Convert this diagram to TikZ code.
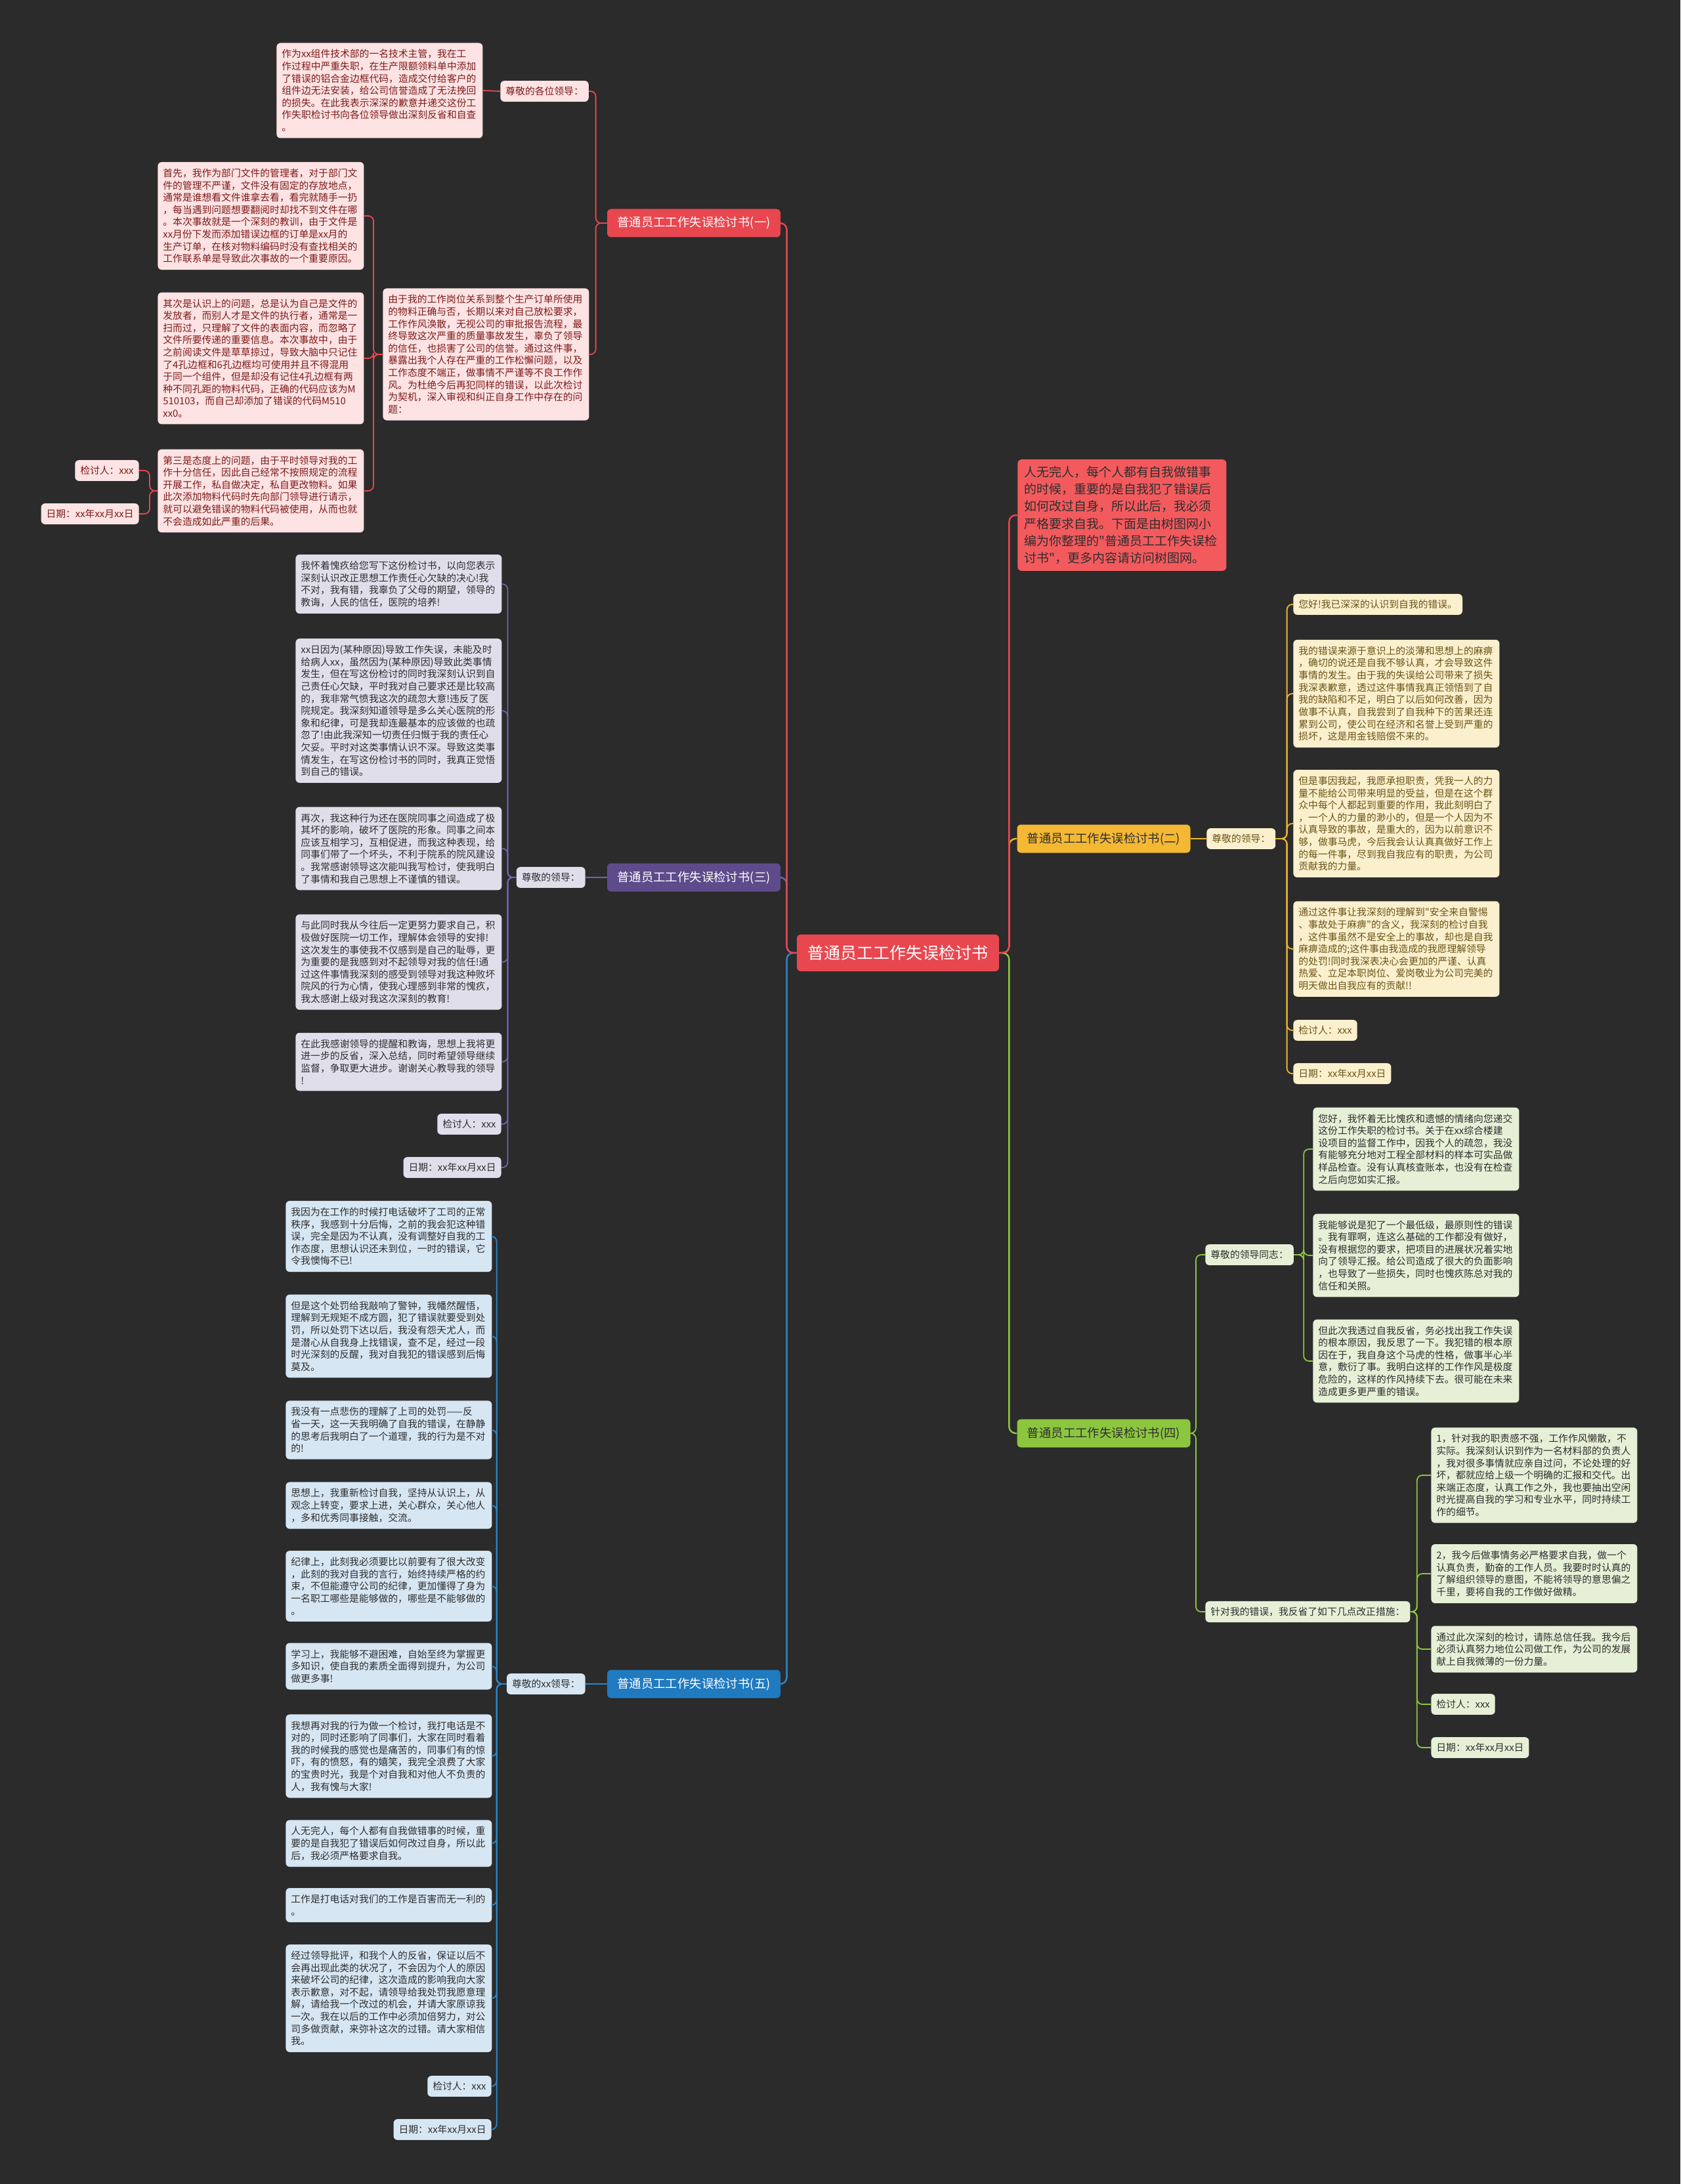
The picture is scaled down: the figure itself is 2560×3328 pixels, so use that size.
\documentclass[tikz,border=0pt]{standalone}
\usepackage{fontspec}
\newfontfamily\cjk{Noto Sans CJK SC}
\definecolor{bg}{HTML}{2B2B2B}
\definecolor{cred}{HTML}{E8474F}
\definecolor{cintro}{HTML}{F35A5D}
\definecolor{cyel}{HTML}{F4B834}
\definecolor{cpur}{HTML}{5E4B8B}
\definecolor{cgrn}{HTML}{8CC63F}
\definecolor{cblu}{HTML}{1F7AC0}
\definecolor{lred}{HTML}{E8474F}
\definecolor{lpur}{HTML}{7461AE}
\definecolor{lblu}{HTML}{2C86C8}
\definecolor{lyel}{HTML}{F0B530}
\definecolor{lgrn}{HTML}{8DC63F}
\definecolor{fpink}{HTML}{FDE3E3}
\definecolor{tpink}{HTML}{7E1A1A}
\definecolor{flav}{HTML}{E1DEEC}
\definecolor{fblu}{HTML}{D6E6F3}
\definecolor{fcre}{HTML}{FBF0CD}
\definecolor{tcre}{HTML}{6B5317}
\definecolor{fgrn}{HTML}{E6F0D7}
\definecolor{tdark}{HTML}{2E2E2E}
\tikzset{
  base/.style={rounded corners=3pt, inner xsep=4pt, inner ysep=5pt, align=left,
    font=\cjk\fontsize{7.4}{9.3}\selectfont},
  leaf/.style={base, text width=149pt},
  tag/.style={base, inner ysep=4.5pt},
  pinkbox/.style={fill=fpink, text=tpink},
  lavbox/.style={fill=flav, text=tdark},
  blubox/.style={fill=fblu, text=tdark},
  crebox/.style={fill=fcre, text=tcre},
  grnbox/.style={fill=fgrn, text=tdark},
  branch/.style={rounded corners=3pt, minimum width=132pt, minimum height=21.5pt,
    inner sep=0pt, font=\cjk\fontsize{9.2}{10}\selectfont},
  conn/.style={line width=1.2pt, rounded corners=5pt},
  subconn/.style={line width=0.9pt, rounded corners=4pt},
}
\begin{document}
\begin{tikzpicture}[x=0.5pt,y=-0.5pt]
\fill[bg] (0,0) rectangle (2560,3328);

% root
\node[rounded corners=3pt, fill=cred, text=white, minimum width=154pt, minimum height=28pt,
  inner sep=0pt, font=\cjk\fontsize{12.5}{14}\selectfont] (root) at (1368,1452) {普通员工工作失误检讨书};

% branches
\node[branch, fill=cred, text=white] (b1) at (1057,340) {普通员工工作失误检讨书(一)};
\node[branch, fill=cpur, text=white] (b3) at (1057,1337) {普通员工工作失误检讨书(三)};
\node[branch, fill=cblu, text=white] (b5) at (1057,2566) {普通员工工作失误检讨书(五)};
\node[branch, fill=cyel, text=tdark] (b2) at (1681.5,1278) {普通员工工作失误检讨书(二)};
\node[branch, fill=cgrn, text=tdark] (b4) at (1681.5,2184) {普通员工工作失误检讨书(四)};
\node[rounded corners=3pt, fill=cintro, text=tdark, inner xsep=5pt, inner ysep=5pt, text width=149pt,
  align=left, anchor=west, font=\cjk\fontsize{9.5}{13.15}\selectfont] (intro) at (1550,785)
  {人无完人，每个人都有自我做错事\\的时候，重要的是自我犯了错误后\\如何改过自身，所以此后，我必须\\严格要求自我。下面是由树图网小\\编为你整理的"普通员工工作失误检\\讨书"，更多内容请访问树图网。};

% ---------- branch 1 ----------
\node[tag, pinkbox, anchor=west] (l1) at (762,139) {尊敬的各位领导：};
\node[leaf, pinkbox, anchor=west] (t1) at (421,138) {作为xx组件技术部的一名技术主管，我在工\\作过程中严重失职，在生产限额领料单中添加\\了错误的铝合金边框代码，造成交付给客户的\\组件边无法安装，给公司信誉造成了无法挽回\\的损失。在此我表示深深的歉意并递交这份工\\作失职检讨书向各位领导做出深刻反省和自查\\。};
\node[leaf, pinkbox, anchor=west] (m) at (583,540) {由于我的工作岗位关系到整个生产订单所使用\\的物料正确与否，长期以来对自己放松要求，\\工作作风涣散，无视公司的审批报告流程，最\\终导致这次严重的质量事故发生，辜负了领导\\的信任，也损害了公司的信誉。通过这件事，\\暴露出我个人存在严重的工作松懈问题，以及\\工作态度不端正，做事情不严谨等不良工作作\\风。为杜绝今后再犯同样的错误，以此次检讨\\为契机，深入审视和纠正自身工作中存在的问\\题：};
\node[leaf, pinkbox, anchor=west] (p1) at (240,329) {首先，我作为部门文件的管理者，对于部门文\\件的管理不严谨，文件没有固定的存放地点，\\通常是谁想看文件谁拿去看，看完就随手一扔\\，每当遇到问题想要翻阅时却找不到文件在哪\\。本次事故就是一个深刻的教训，由于文件是\\xx月份下发而添加错误边框的订单是xx月的\\生产订单，在核对物料编码时没有查找相关的\\工作联系单是导致此次事故的一个重要原因。};
\node[leaf, pinkbox, anchor=west] (p2) at (240,546) {其次是认识上的问题，总是认为自己是文件的\\发放者，而别人才是文件的执行者，通常是一\\扫而过，只理解了文件的表面内容，而忽略了\\文件所要传递的重要信息。本次事故中，由于\\之前阅读文件是草草掠过，导致大脑中只记住\\了4孔边框和6孔边框均可使用并且不得混用\\于同一个组件，但是却没有记住4孔边框有两\\种不同孔距的物料代码，正确的代码应该为M\\510103，而自己却添加了错误的代码M510\\xx0。};
\node[leaf, pinkbox, anchor=west] (p3) at (240,748) {第三是态度上的问题，由于平时领导对我的工\\作十分信任，因此自己经常不按照规定的流程\\开展工作，私自做决定，私自更改物料。如果\\此次添加物料代码时先向部门领导进行请示，\\就可以避免错误的物料代码被使用，从而也就\\不会造成如此严重的后果。};
\node[tag, pinkbox, anchor=east] (k1) at (212,717) {检讨人：xxx};
\node[tag, pinkbox, anchor=east] (d1) at (212,783) {日期：xx年xx月xx日};

% ---------- branch 3 ----------
\node[tag, lavbox, anchor=east] (l3) at (892,1337) {尊敬的领导：};
\node[leaf, lavbox, anchor=west] (c1) at (450,890) {我怀着愧疚给您写下这份检讨书，以向您表示\\深刻认识改正思想工作责任心欠缺的决心!我\\不对，我有错，我辜负了父母的期望，领导的\\教诲，人民的信任，医院的培养!};
\node[leaf, lavbox, anchor=west] (c2) at (450,1083) {xx日因为(某种原因)导致工作失误，未能及时\\给病人xx，虽然因为(某种原因)导致此类事情\\发生，但在写这份检讨的同时我深刻认识到自\\己责任心欠缺，平时我对自己要求还是比较高\\的，我非常气愤我这次的疏忽大意!违反了医\\院规定。我深刻知道领导是多么关心医院的形\\象和纪律，可是我却连最基本的应该做的也疏\\忽了!由此我深知一切责任归慨于我的责任心\\欠妥。平时对这类事情认识不深。导致这类事\\情发生，在写这份检讨书的同时，我真正觉悟\\到自己的错误。};
\node[leaf, lavbox, anchor=west] (c3) at (450,1293) {再次，我这种行为还在医院同事之间造成了极\\其坏的影响，破坏了医院的形象。同事之间本\\应该互相学习，互相促进，而我这种表现，给\\同事们带了一个坏头，不利于院系的院风建设\\。我常感谢领导这次能叫我写检讨，使我明白\\了事情和我自己思想上不谨慎的错误。};
\node[leaf, lavbox, anchor=west] (c4) at (450,1466) {与此同时我从今往后一定更努力要求自己，积\\极做好医院一切工作，理解体会领导的安排!\\这次发生的事使我不仅感到是自己的耻辱，更\\为重要的是我感到对不起领导对我的信任!通\\过这件事情我深刻的感受到领导对我这种败坏\\院风的行为心情，使我心理感到非常的愧疚，\\我太感谢上级对我这次深刻的教育!};
\node[leaf, lavbox, anchor=west] (c5) at (450,1618) {在此我感谢领导的提醒和教诲，思想上我将更\\进一步的反省，深入总结，同时希望领导继续\\监督，争取更大进步。谢谢关心教导我的领导\\!};
\node[tag, lavbox, anchor=east] (k3) at (764,1713) {检讨人：xxx};
\node[tag, lavbox, anchor=east] (d3) at (764,1779) {日期：xx年xx月xx日};

% ---------- branch 5 ----------
\node[tag, blubox, anchor=east] (l5) at (892,2566) {尊敬的xx领导：};
\node[leaf, blubox, anchor=west] (f1) at (435,1884) {我因为在工作的时候打电话破坏了工司的正常\\秩序，我感到十分后悔，之前的我会犯这种错\\误，完全是因为不认真，没有调整好自我的工\\作态度，思想认识还未到位，一时的错误，它\\令我懊悔不已!};
\node[leaf, blubox, anchor=west] (f2) at (435,2036) {但是这个处罚给我敲响了警钟，我幡然醒悟，\\理解到无规矩不成方圆，犯了错误就要受到处\\罚，所以处罚下达以后，我没有怨天尤人，而\\是潜心从自我身上找错误，查不足，经过一段\\时光深刻的反醒，我对自我犯的错误感到后悔\\莫及。};
\node[leaf, blubox, anchor=west] (f3) at (435,2179) {我没有一点悲伤的理解了上司的处罚——反\\省一天，这一天我明确了自我的错误，在静静\\的思考后我明白了一个道理，我的行为是不对\\的!};
\node[leaf, blubox, anchor=west] (f4) at (435,2294) {思想上，我重新检讨自我，坚持从认识上，从\\观念上转变，要求上进，关心群众，关心他人\\，多和优秀同事接触，交流。};
\node[leaf, blubox, anchor=west] (f5) at (435,2417) {纪律上，此刻我必须要比以前要有了很大改变\\，此刻的我对自我的言行，始终持续严格的约\\束，不但能遵守公司的纪律，更加懂得了身为\\一名职工哪些是能够做的，哪些是不能够做的\\。};
\node[leaf, blubox, anchor=west] (f6) at (435,2539) {学习上，我能够不避困难，自始至终为掌握更\\多知识，使自我的素质全面得到提升，为公司\\做更多事!};
\node[leaf, blubox, anchor=west] (f7) at (435,2676) {我想再对我的行为做一个检讨，我打电话是不\\对的，同时还影响了同事们，大家在同时看着\\我的时候我的感觉也是痛苦的，同事们有的惊\\吓，有的愤怒，有的嬉笑，我完全浪费了大家\\的宝贵时光，我是个对自我和对他人不负责的\\人，我有愧与大家!};
\node[leaf, blubox, anchor=west] (f8) at (435,2809) {人无完人，每个人都有自我做错事的时候，重\\要的是自我犯了错误后如何改过自身，所以此\\后，我必须严格要求自我。};
\node[leaf, blubox, anchor=west] (f9) at (435,2903) {工作是打电话对我们的工作是百害而无一利的\\。};
\node[leaf, blubox, anchor=west] (f10) at (435,3045) {经过领导批评，和我个人的反省，保证以后不\\会再出现此类的状况了，不会因为个人的原因\\来破坏公司的纪律，这次造成的影响我向大家\\表示歉意，对不起，请领导给我处罚我愿意理\\解，请给我一个改过的机会，并请大家原谅我\\一次。我在以后的工作中必须加倍努力，对公\\司多做贡献，来弥补这次的过错。请大家相信\\我。};
\node[tag, blubox, anchor=east] (k5) at (749,3179) {检讨人：xxx};
\node[tag, blubox, anchor=east] (d5) at (749,3245) {日期：xx年xx月xx日};

% ---------- branch 2 ----------
\node[tag, crebox, anchor=west] (l2) at (1838,1278) {尊敬的领导：};
\node[tag, crebox, anchor=west] (a1) at (1970,921) {您好!我已深深的认识到自我的错误。};
\node[leaf, crebox, anchor=west] (a2) at (1970,1057) {我的错误来源于意识上的淡薄和思想上的麻痹\\，确切的说还是自我不够认真，才会导致这件\\事情的发生。由于我的失误给公司带来了损失\\我深表歉意，透过这件事情我真正领悟到了自\\我的缺陷和不足，明白了以后如何改善，因为\\做事不认真，自我尝到了自我种下的苦果还连\\累到公司，使公司在经济和名誉上受到严重的\\损坏，这是用金钱赔偿不来的。};
\node[leaf, crebox, anchor=west] (a3) at (1970,1255) {但是事因我起，我愿承担职责，凭我一人的力\\量不能给公司带来明显的受益，但是在这个群\\众中每个人都起到重要的作用，我此刻明白了\\，一个人的力量的渺小的，但是一个人因为不\\认真导致的事故，是重大的，因为以前意识不\\够，做事马虎，今后我会认认真真做好工作上\\的每一件事，尽到我自我应有的职责，为公司\\贡献我的力量。};
\node[leaf, crebox, anchor=west] (a4) at (1970,1446) {通过这件事让我深刻的理解到"安全来自警惕\\、事故处于麻痹"的含义，我深刻的检讨自我\\，这件事虽然不是安全上的事故，却也是自我\\麻痹造成的;这件事由我造成的我愿理解领导\\的处罚!同时我深表决心会更加的严谨、认真\\热爱、立足本职岗位、爱岗敬业为公司完美的\\明天做出自我应有的贡献!!};
\node[tag, crebox, anchor=west] (k2) at (1970,1570) {检讨人：xxx};
\node[tag, crebox, anchor=west] (d2) at (1970,1636) {日期：xx年xx月xx日};

% ---------- branch 4 ----------
\node[tag, grnbox, anchor=west] (l4a) at (1836,1912) {尊敬的领导同志：};
\node[leaf, grnbox, anchor=west] (g1) at (2000,1751) {您好，我怀着无比愧疚和遗憾的情绪向您递交\\这份工作失职的检讨书。关于在xx综合楼建\\设项目的监督工作中，因我个人的疏忽，我没\\有能够充分地对工程全部材料的样本可实品做\\样品检查。没有认真核查账本，也没有在检查\\之后向您如实汇报。};
\node[leaf, grnbox, anchor=west] (g2) at (2000,1913) {我能够说是犯了一个最低级，最原则性的错误\\。我有罪啊，连这么基础的工作都没有做好，\\没有根据您的要求，把项目的进展状况着实地\\向了领导汇报。给公司造成了很大的负面影响\\，也导致了一些损失，同时也愧疚陈总对我的\\信任和关照。};
\node[leaf, grnbox, anchor=west] (g3) at (2000,2074) {但此次我透过自我反省，务必找出我工作失误\\的根本原因，我反思了一下。我犯错的根本原\\因在于，我自身这个马虎的性格，做事半心半\\意，敷衍了事。我明白这样的工作作风是极度\\危险的，这样的作风持续下去。很可能在未来\\造成更多更严重的错误。};
\node[tag, grnbox, anchor=west] (l4b) at (1836,2456) {针对我的错误，我反省了如下几点改正措施：};
\node[leaf, grnbox, anchor=west] (h1) at (2180,2248) {1，针对我的职责感不强，工作作风懒散，不\\实际。我深刻认识到作为一名材料部的负责人\\，我对很多事情就应亲自过问，不论处理的好\\坏，都就应给上级一个明确的汇报和交代。出\\来端正态度，认真工作之外，我也要抽出空闲\\时光提高自我的学习和专业水平，同时持续工\\作的细节。};
\node[leaf, grnbox, anchor=west] (h2) at (2180,2398) {2，我今后做事情务必严格要求自我，做一个\\认真负责，勤奋的工作人员。我要时时认真的\\了解组织领导的意图，不能将领导的意思偏之\\千里，要将自我的工作做好做精。};
\node[leaf, grnbox, anchor=west] (h3) at (2180,2513) {通过此次深刻的检讨，请陈总信任我。我今后\\必须认真努力地位公司做工作，为公司的发展\\献上自我微薄的一份力量。};
\node[tag, grnbox, anchor=west] (k4) at (2180,2597) {检讨人：xxx};
\node[tag, grnbox, anchor=west] (d4) at (2180,2663) {日期：xx年xx月xx日};

% ---------- connectors ----------
\draw[conn, lblu] (root.west) -- ++(-15,0) |- (b5.east);
\draw[conn, lpur] (root.west) -- ++(-15,0) |- (b3.east);
\draw[conn, lred] (root.west) -- ++(-15,0) |- (b1.east);
\draw[conn, lgrn] (root.east) -- ++(15,0) |- (b4.west);
\draw[conn, lyel] (root.east) -- ++(15,0) |- (b2.west);
\draw[conn, lred] (root.east) -- ++(15,0) |- (intro.west);

% branch 1
\foreach \n in {l1,m} \draw[subconn, lred] (b1.west) -- ++(-17,0) |- (\n.east);
\draw[subconn, lred] (l1.west) -- (t1.east);
\foreach \n in {p1,p2,p3} \draw[subconn, lred] (m.west) -- ++(-14,0) |- (\n.east);
\foreach \n in {k1,d1} \draw[subconn, lred] (p3.west) -- ++(-12,0) |- (\n.east);

% branch 3
\draw[subconn, lpur] (b3.west) -- (l3.east);
\foreach \n in {c1,c2,c3,c4,c5,k3,d3} \draw[subconn, lpur] (l3.west) -- ++(-13,0) |- (\n.east);

% branch 5
\draw[subconn, lblu] (b5.west) -- (l5.east);
\foreach \n in {f1,f2,f3,f4,f5,f6,f7,f8,f9,f10,k5,d5} \draw[subconn, lblu] (l5.west) -- ++(-15,0) |- (\n.east);

% branch 2
\draw[subconn, lyel] (b2.east) -- (l2.west);
\foreach \n in {a1,a2,a3,a4,k2,d2} \draw[subconn, lyel] (l2.east) -- ++(17,0) |- (\n.west);

% branch 4
\foreach \n in {l4a,l4b} \draw[subconn, lgrn] (b4.east) -- ++(8,0) |- (\n.west);
\foreach \n in {g1,g2,g3} \draw[subconn, lgrn] (l4a.east) -- ++(15,0) |- (\n.west);
\foreach \n in {h1,h2,h3,k4,d4} \draw[subconn, lgrn] (l4b.east) -- ++(10,0) |- (\n.west);
\end{tikzpicture}
\end{document}
